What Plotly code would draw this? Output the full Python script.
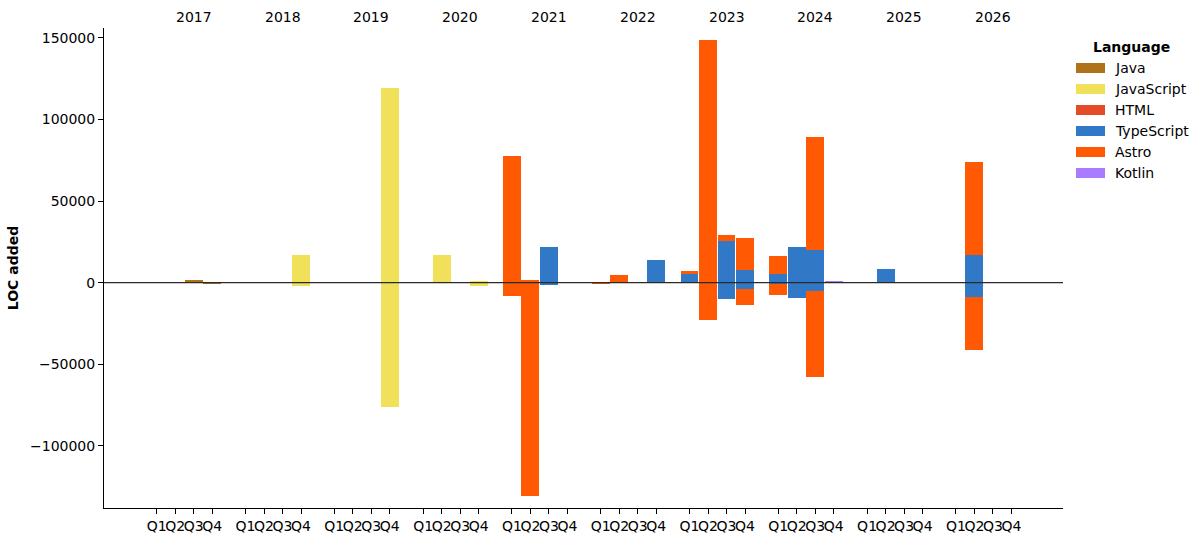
import plotly.graph_objects as go

# ---------------- data ----------------
years = [2017, 2018, 2019, 2020, 2021, 2022, 2023, 2024, 2025, 2026]
quarters = ["Q1", "Q2", "Q3", "Q4"]
languages = ["Java", "JavaScript", "HTML", "TypeScript", "Astro", "Kotlin"]
colors = {
    "Java": "#b07219",
    "JavaScript": "#f1e05a",
    "HTML": "#e34c26",
    "TypeScript": "#3178c6",
    "Astro": "#ff5a03",
    "Kotlin": "#A97BFF",
}

# lines added (positive) per language and quarter
java_added = {"2017-Q3": 1500}
javascript_added = {"2018-Q4": 16900, "2019-Q1": 300, "2019-Q4": 119300,
                    "2020-Q2": 16900, "2020-Q4": 900}
html_added = {}
typescript_added = {"2021-Q3": 21800, "2022-Q4": 13800, "2023-Q1": 5800,
                    "2023-Q3": 25400, "2023-Q4": 7700, "2024-Q1": 5200,
                    "2024-Q2": 21800, "2024-Q3": 19900, "2025-Q2": 8300,
                    "2026-Q2": 16900}
astro_added = {"2021-Q1": 77600, "2021-Q2": 1500, "2022-Q2": 4600,
               "2023-Q1": 1200, "2023-Q2": 148800, "2023-Q3": 3700,
               "2023-Q4": 19600, "2024-Q1": 11000, "2024-Q3": 69300,
               "2026-Q2": 57000}
kotlin_added = {"2024-Q4": 700}

# lines removed (negative) per language and quarter
java_removed = {"2017-Q4": -500}
javascript_removed = {"2018-Q4": -2000, "2019-Q4": -76400, "2020-Q4": -2100}
html_removed = {}
typescript_removed = {"2021-Q3": -1500, "2023-Q3": -10100, "2023-Q4": -4000,
                      "2024-Q1": -1000, "2024-Q2": -9500, "2024-Q3": -5200,
                      "2026-Q2": -8900}
astro_removed = {"2021-Q1": -8100, "2021-Q2": -130800, "2022-Q1": -500,
                 "2023-Q2": -23000, "2023-Q4": -9800, "2024-Q1": -6700,
                 "2024-Q3": -52800, "2026-Q2": -32500}
kotlin_removed = {}

added = {"Java": java_added, "JavaScript": javascript_added, "HTML": html_added,
         "TypeScript": typescript_added, "Astro": astro_added, "Kotlin": kotlin_added}
removed = {"Java": java_removed, "JavaScript": javascript_removed, "HTML": html_removed,
           "TypeScript": typescript_removed, "Astro": astro_removed, "Kotlin": kotlin_removed}

y_tick_values = [-100000, -50000, 0, 50000, 100000, 150000]

# ---------------- layout helpers ----------------
W, H = 1202, 542
ML, MR, MT, MB = 104, 139, 28, 34
PW, PH = W - ML - MR, H - MT - MB


def px(xp):
    return (xp - ML) / PW


def py(yp):
    return (H - MB - yp) / PH


YEAR_STEP = 4.8
periods, xpos = [], []
for yi, yr in enumerate(years):
    for qi, q in enumerate(quarters):
        periods.append(f"{yr}-{q}")
        xpos.append(yi * YEAR_STEP + qi)

FONT = "DejaVu Sans"
FS = 14
fig = go.Figure()

for lang in languages:
    for series in (added[lang], removed[lang]):
        vals = [series.get(p, 0) for p in periods]
        fig.add_trace(go.Bar(
            x=xpos, y=vals, width=0.97, name=lang,
            marker=dict(color=colors[lang], line=dict(width=0)),
            showlegend=False,
        ))

# zero line
fig.add_shape(type="line", xref="paper", x0=0, x1=1, yref="y", y0=0, y1=0,
              line=dict(color="#2a2a2a", width=1.1), layer="above")

# year labels on top (at Q3 position)
for yi, yr in enumerate(years):
    fig.add_annotation(x=yi * YEAR_STEP + 2, y=py(17), xref="x", yref="paper",
                       text=str(yr), showarrow=False,
                       yanchor="middle", font=dict(size=FS, color="black", family=FONT))

# manual legend (matplotlib style)
fig.add_annotation(x=px(1131), y=py(47), xref="paper", yref="paper",
                   text="<b>Language</b>", showarrow=False, xanchor="center",
                   yanchor="middle", font=dict(size=FS, color="black", family=FONT))
for i, lang in enumerate(languages):
    cy = 68 + i * 21
    fig.add_shape(type="rect", xref="paper", yref="paper",
                  x0=px(1076), x1=px(1105),
                  y0=py(cy - 5), y1=py(cy + 5),
                  fillcolor=colors[lang], line=dict(width=0))
    fig.add_annotation(x=px(1113), y=py(cy), xref="paper", yref="paper",
                       text=lang, showarrow=False, xanchor="left", yanchor="middle",
                       font=dict(size=FS, color="black", family=FONT))

fig.update_layout(
    width=W, height=H,
    margin=dict(l=ML, r=MR, t=MT, b=MB),
    barmode="relative", bargap=0,
    plot_bgcolor="white", paper_bgcolor="white",
    font=dict(family=FONT, size=FS, color="black"),
    showlegend=False,
)
fig.update_xaxes(
    range=[-2.85, 48.99], automargin=False,
    tickvals=xpos, ticktext=[q for _ in years for q in quarters],
    ticks="outside", ticklen=5, tickwidth=1, tickcolor="black",
    showline=True, linecolor="black", linewidth=1,
    showgrid=False, zeroline=False,
    tickfont=dict(size=FS, family=FONT), tickangle=0,
)
fig.update_yaxes(
    range=[-138200, 156100], automargin=False,
    tickvals=y_tick_values,
    ticktext=[str(v).replace("-", "\u2212") for v in y_tick_values],
    ticks="outside", ticklen=5, tickwidth=1, tickcolor="black",
    showline=True, linecolor="black", linewidth=1,
    showgrid=False, zeroline=False,
    tickfont=dict(size=FS, family=FONT),
    title=dict(text="<b>LOC added</b>", font=dict(size=FS, family=FONT), standoff=8),
)

fig.write_html("out.html")
